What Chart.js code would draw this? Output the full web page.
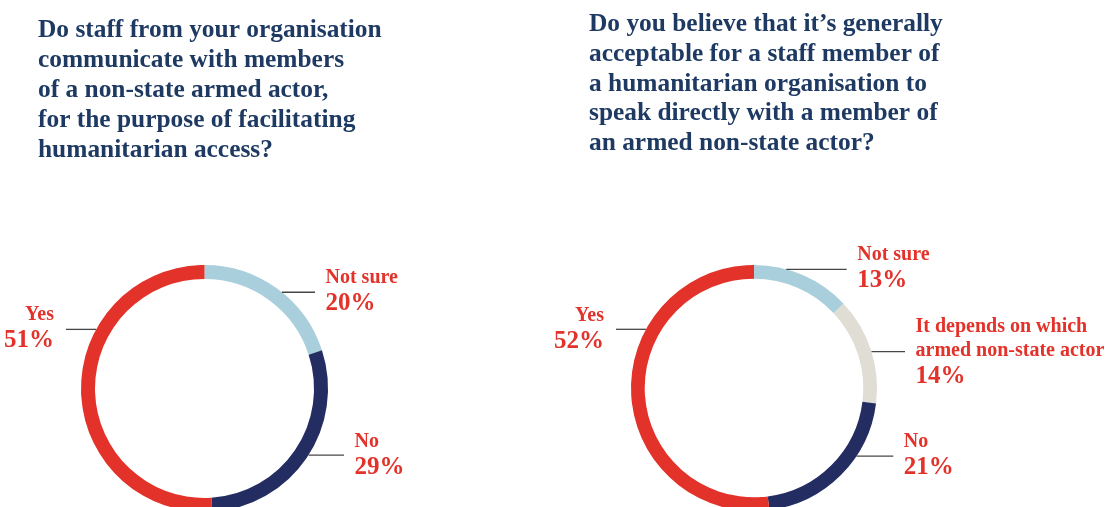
<!DOCTYPE html>
<html>
<head>
<meta charset="utf-8">
<script src="https://cdn.jsdelivr.net/npm/chart.js@4/dist/chart.umd.min.js"></script>
<style>
  html, body { margin: 0; padding: 0; background: #fff; overflow: hidden; }
  .wrap { position: absolute; top: 0; height: 540px; }
  #left { left: 0; width: 555px; }
  #right { left: 555px; width: 556px; }
</style>
</head>
<body>
<div class="wrap" id="left"><canvas id="chartLeft"></canvas></div>
<div class="wrap" id="right"><canvas id="chartRight"></canvas></div>
<script>
// data
const leftTitle = [
  'Do staff from your organisation',
  'communicate with members',
  'of a non-state armed actor,',
  'for the purpose of facilitating',
  'humanitarian access?'
];
const leftLabels = ['Not sure', 'No', 'Yes'];
const leftValues = [20, 29, 51];

const rightTitle = [
  'Do you believe that it\u2019s generally',
  'acceptable for a staff member of',
  'a humanitarian organisation to',
  'speak directly with a member of',
  'an armed non-state actor?'
];
const rightLabels = ['Not sure', ['It depends on which', 'armed non-state actor'], 'No', 'Yes'];
const rightValues = [13, 14, 21, 52];

// colours
const RED = '#e2322a';
const NAVY = '#242d61';
const LIGHT_BLUE = '#aacfdc';
const BEIGE = '#dfddd4';
const TITLE_COLOR = '#1e3a63';

const leftColors = [LIGHT_BLUE, NAVY, RED];
const rightColors = [LIGHT_BLUE, BEIGE, NAVY, RED];

// callout lines: angle on the ring (deg, clockwise from top), end x relative to centre, pct baseline below line
const leftCallouts = [
  { angle: 38.8, end: 110.5, pct: 18 },
  { angle: 122.6, end: 139.5, pct: 18.5 },
  { angle: 298.6, end: -138.5, pct: 18 }
];
const rightCallouts = [
  { angle: 15.2, end: 92.7, pct: 17.5 },
  { angle: 72.8, end: 151, pct: 31.5 },
  { angle: 123.6, end: 139.3, pct: 17.5 },
  { angle: 298.5, end: -138, pct: 18.3 }
];

const SERIF = '"Liberation Serif", "Times New Roman", serif';

// question text above each ring
const headingPlugin = {
  id: 'heading',
  afterDraw(chart, args, opts) {
    const ctx = chart.ctx;
    ctx.save();
    ctx.fillStyle = TITLE_COLOR;
    ctx.font = 'bold 25.4px ' + SERIF;
    ctx.textAlign = 'left';
    ctx.textBaseline = 'alphabetic';
    opts.lines.forEach((t, i) => ctx.fillText(t, opts.x, opts.y + opts.lineHeight * i));
    ctx.restore();
  }
};

const calloutPlugin = {
  id: 'callouts',
  afterDatasetsDraw(chart, args, opts) {
    const arc = chart.getDatasetMeta(0).data[0];
    if (!arc) return;
    const { x, y, outerRadius } = arc.getProps(['x', 'y', 'outerRadius'], true);
    const ctx = chart.ctx;
    const values = chart.data.datasets[0].data;
    opts.items.forEach((item, i) => {
      const a = item.angle * Math.PI / 180;
      const sx = x + outerRadius * Math.sin(a);
      const sy = y - outerRadius * Math.cos(a);
      const ex = x + item.end;
      ctx.save();
      ctx.strokeStyle = '#474747';
      ctx.lineWidth = 1.3;
      ctx.beginPath();
      ctx.moveTo(sx, sy);
      ctx.lineTo(ex, sy);
      ctx.stroke();

      const onRight = item.end > 0;
      const tx = onRight ? ex + 10.5 : ex - 12;
      ctx.textAlign = onRight ? 'left' : 'right';
      ctx.textBaseline = 'alphabetic';
      ctx.fillStyle = RED;
      const pctY = sy + item.pct;
      ctx.font = 'bold 25px ' + SERIF;
      ctx.fillText(values[i] + '%', tx, pctY);
      const lines = [].concat(chart.data.labels[i]);
      ctx.font = 'bold 20px ' + SERIF;
      lines.forEach((t, k) => {
        ctx.fillText(t, tx, pctY - 27 - 24.3 * (lines.length - 1 - k));
      });
      ctx.restore();
    });
  }
};

function makeChart(id, title, titlePos, labels, values, colors, callouts, pad, cutout) {
  return new Chart(document.getElementById(id), {
    type: 'doughnut',
    data: {
      labels: labels,
      datasets: [{
        data: values,
        backgroundColor: colors,
        borderWidth: 0,
        hoverOffset: 0
      }]
    },
    options: {
      responsive: true,
      maintainAspectRatio: false,
      animation: false,
      cutout: cutout,
      layout: { padding: pad },
      plugins: {
        legend: { display: false },
        tooltip: { enabled: false },
        title: { display: false },
        heading: { lines: title, x: titlePos.x, y: titlePos.y, lineHeight: titlePos.lineHeight },
        callouts: { items: callouts }
      }
    },
    plugins: [calloutPlugin, headingPlugin]
  });
}

makeChart('chartLeft', leftTitle, { x: 38, y: 36.7, lineHeight: 30 },
  leftLabels, leftValues, leftColors, leftCallouts,
  { left: 81, right: 227, top: 265, bottom: 28 }, 109.5);
makeChart('chartRight', rightTitle, { x: 34, y: 31, lineHeight: 29.8 },
  rightLabels, rightValues, rightColors, rightCallouts,
  { left: 76, right: 234, top: 265, bottom: 29 }, 109.3);
</script>
</body>
</html>
